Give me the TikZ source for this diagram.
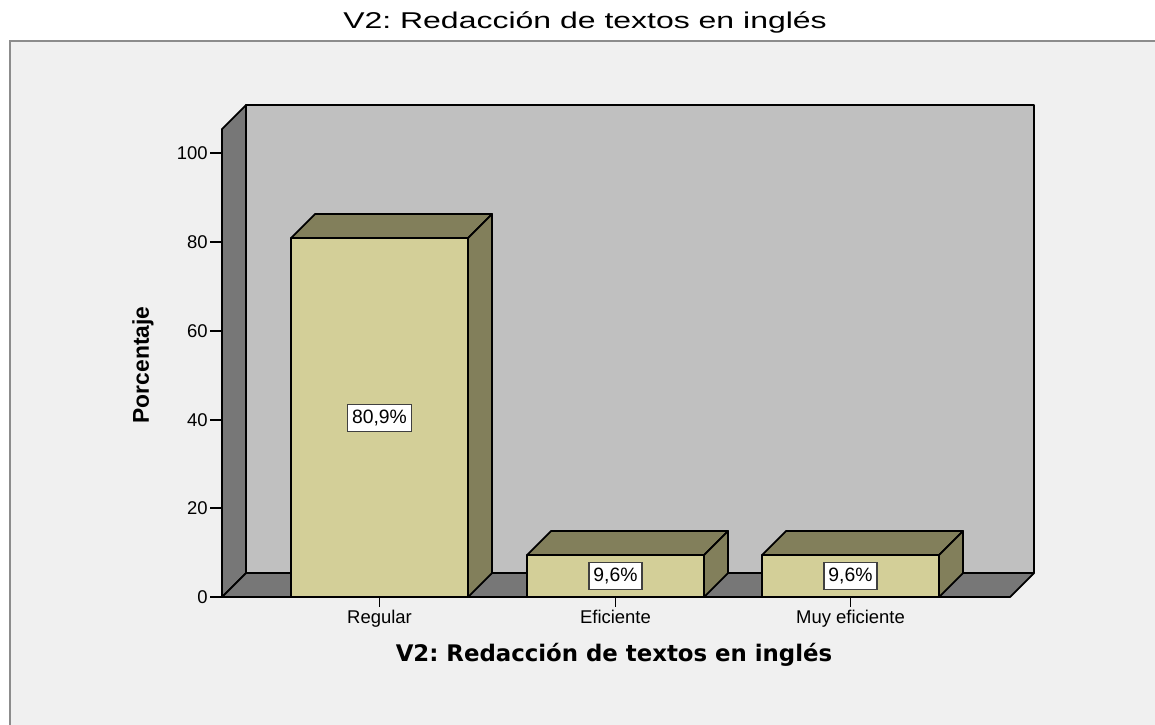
\documentclass[tikz,border=0pt]{standalone}
\usepackage{fontspec}
\setmainfont{Liberation Sans}
\newfontfamily\dejavu{DejaVu Sans}
\usetikzlibrary{positioning}
\frenchspacing

\definecolor{framebg}{HTML}{F0F0F0}
\definecolor{wallback}{HTML}{C0C0C0}
\definecolor{wallside}{HTML}{777777}
\definecolor{barfront}{HTML}{D3CF98}
\definecolor{bardark}{HTML}{827F5B}

\begin{document}
\begin{tikzpicture}[x = 0.02cm, y = -0.02cm,
    face/.style      = {draw = black, line width = 1pt, line join = round},
    ticklabel/.style = {font = \fontsize{10.5}{12}\selectfont, inner sep = 0pt},
    valuebox/.style  = {draw = black!75, fill = white, line width = 0.7pt,
                        font = \fontsize{11}{13}\selectfont, inner sep = 2.5pt,
                        minimum height = 15pt}]
    \useasboundingbox (0,0) rectangle (1155,724);
    \fill [white] (0,0) rectangle (1155,724);
    \path [fill = framebg, draw = black!45, line width = 1.3pt] (10,41) rectangle (1175,745);

    % walls and floor
    \path [face, fill = wallback] (246,105) -- (1034,105) -- (1034,573) -- (246,573) -- cycle;
    \path [face, fill = wallside] (222,129) -- (246,105) -- (246,573) -- (222,597) -- cycle;
    \path [face, fill = wallside] (222,597) -- (246,573) -- (1034,573) -- (1010,597) -- cycle;

    % y axis
    \draw [face] (210,597) -- (222,597);
    \draw [face] (210,508) -- (222,508);
    \draw [face] (210,420) -- (222,420);
    \draw [face] (210,331) -- (222,331);
    \draw [face] (210,242) -- (222,242);
    \draw [face] (210,153) -- (222,153);
    \node [ticklabel, anchor = east] (y0)   at (208,597) {0};
    \node [ticklabel, anchor = east] (y20)  at (208,508) {20};
    \node [ticklabel, anchor = east] (y40)  at (208,420) {40};
    \node [ticklabel, anchor = east] (y60)  at (208,331) {60};
    \node [ticklabel, anchor = east] (y80)  at (208,242) {80};
    \node [ticklabel, anchor = east] (y100) at (208,153) {100};

    % bar: Regular
    \path [face, fill = barfront] (291,238) rectangle (468,597);
    \path [face, fill = bardark]  (291,238) -- (315,214) -- (492,214) -- (468,238) -- cycle;
    \path [face, fill = bardark]  (468,238) -- (492,214) -- (492,573) -- (468,597) -- cycle;

    % bar: Eficiente
    \path [face, fill = barfront] (527,555) rectangle (704,597);
    \path [face, fill = bardark]  (527,555) -- (551,531) -- (728,531) -- (704,555) -- cycle;
    \path [face, fill = bardark]  (704,555) -- (728,531) -- (728,573) -- (704,597) -- cycle;

    % bar: Muy eficiente
    \path [face, fill = barfront] (762,555) rectangle (939,597);
    \path [face, fill = bardark]  (762,555) -- (786,531) -- (963,531) -- (939,555) -- cycle;
    \path [face, fill = bardark]  (939,555) -- (963,531) -- (963,573) -- (939,597) -- cycle;

    \node [valuebox] (vregular)    at (379.5,418) {80,9\%};
    \node [valuebox] (veficiente)  at (615.5,576) {9,6\%};
    \node [valuebox] (vmuyefic)    at (850.5,576) {9,6\%};

    % x axis
    \draw [face] (379.5,597) -- (379.5,607);
    \draw [face] (615.5,597) -- (615.5,607);
    \draw [face] (850.5,597) -- (850.5,607);
    \node [ticklabel, anchor = base] (cregular)   at (379.5,623) {Regular};
    \node [ticklabel, anchor = base] (ceficiente) at (615.5,623) {Eficiente};
    \node [ticklabel, anchor = base] (cmuyefic)   at (850.5,623) {Muy eficiente};

    % titles
    \node [font = \fontsize{13}{15}\selectfont] (title) at (585,22)
        {\scalebox{1.4}[1]{V2: Redacción de textos en inglés}};
    \node [font = \dejavu\bfseries\fontsize{13}{15}\selectfont] (xtitle) at (614,655)
        {V2: Redacción de textos en inglés};
    \node [font = \bfseries\fontsize{13}{15}\selectfont, rotate = 90] (ytitle) at (143,365)
        {Porcentaje};
\end{tikzpicture}
\end{document}
